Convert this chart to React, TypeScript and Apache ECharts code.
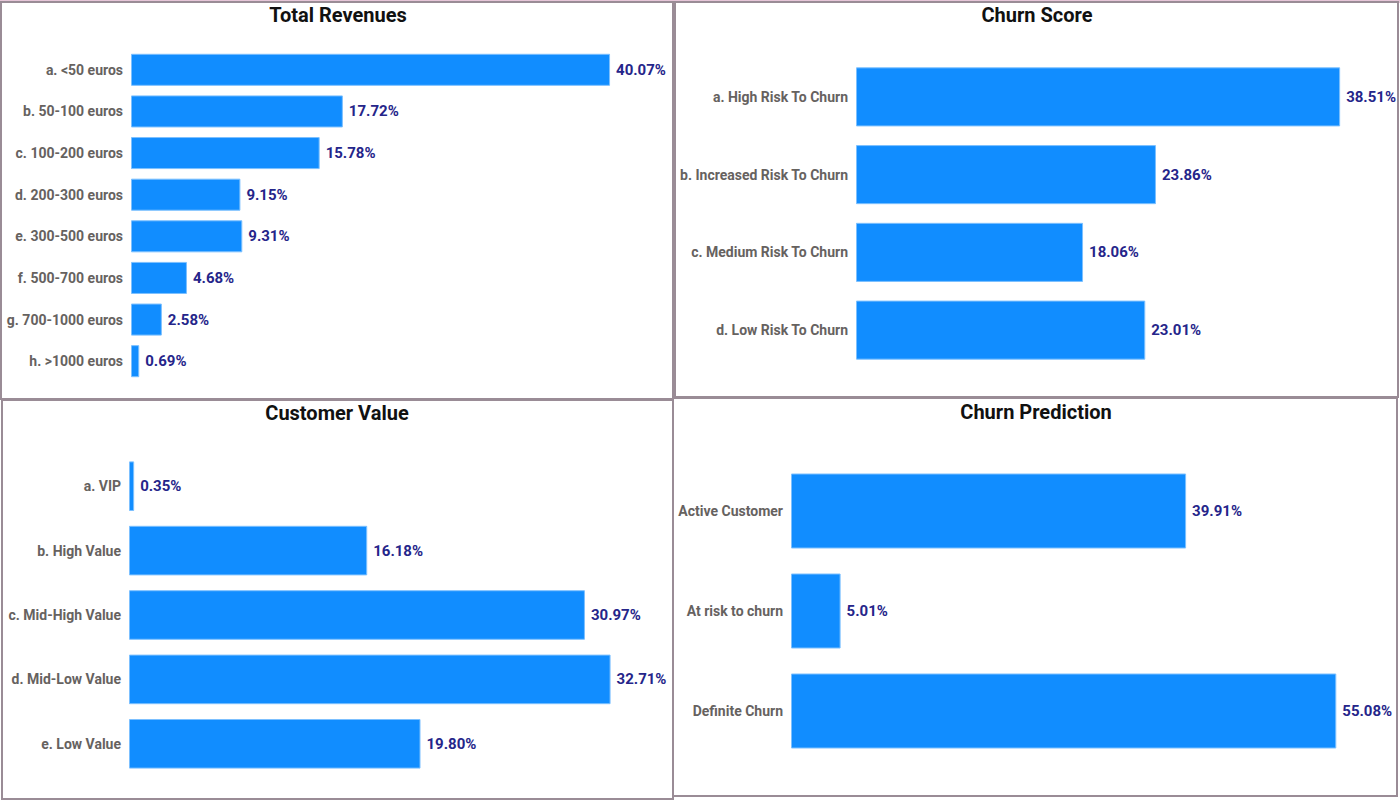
import React, { useEffect, useRef } from "react";
import * as echarts from "echarts";

const revenueCats = ["a. <50 euros", "b. 50-100 euros", "c. 100-200 euros", "d. 200-300 euros", "e. 300-500 euros", "f. 500-700 euros", "g. 700-1000 euros", "h. >1000 euros"];
const revenueVals = [40.07, 17.72, 15.78, 9.15, 9.31, 4.68, 2.58, 0.69];

const churnScoreCats = ["a. High Risk To Churn", "b. Increased Risk To Churn", "c. Medium Risk To Churn", "d. Low Risk To Churn"];
const churnScoreVals = [38.51, 23.86, 18.06, 23.01];

const valueCats = ["a. VIP", "b. High Value", "c. Mid-High Value", "d. Mid-Low Value", "e. Low Value"];
const valueVals = [0.35, 16.18, 30.97, 32.71, 19.8];

const predCats = ["Active Customer", "At risk to churn", "Definite Churn"];
const predVals = [39.91, 5.01, 55.08];

const titles = ["Total Revenues", "Churn Score", "Customer Value", "Churn Prediction"];

const FONT = "Roboto, 'DejaVu Sans', sans-serif";
const BAR = "#118DFF";
const BORDER = "#9a8c96";

export default function App() {
  const ref = useRef<HTMLDivElement>(null);
  useEffect(() => {
    if (!ref.current) return;
    const chart = echarts.init(ref.current, undefined, { renderer: "svg" });

    const panels = [
      { cats: revenueCats, vals: revenueVals, grid: { left: 131, top: 49, width: 538, height: 333 }, max: 45, gap: "23%" },
      { cats: churnScoreCats, vals: churnScoreVals, grid: { left: 856, top: 58, width: 528, height: 311 }, max: 42, gap: "24%" },
      { cats: valueCats, vals: valueVals, grid: { left: 129, top: 454, width: 530, height: 322 }, max: 36, gap: "23%" },
      { cats: predCats, vals: predVals, grid: { left: 791, top: 461, width: 594, height: 300 }, max: 60, gap: "25%" },
    ];

    const titlePos = [
      { x: 338, y: 15 },
      { x: 1037, y: 15 },
      { x: 337, y: 413 },
      { x: 1036, y: 412 },
    ];

    const frames = [
      { x: 1, y: 2, width: 672, height: 397 },
      { x: 675, y: 2, width: 723, height: 395 },
      { x: 2, y: 400, width: 671, height: 399 },
      { x: 673, y: 398, width: 724, height: 398 },
    ];

    const graphic: any[] = [
      { type: "rect", shape: { x: 0, y: 0, width: 1400, height: 3 }, style: { fill: "#e6c6d8" }, silent: true },
    ];
    frames.forEach((f) => {
      graphic.push({
        type: "rect",
        shape: f,
        style: { fill: "none", stroke: BORDER, lineWidth: 2 },
        silent: true,
      });
    });
    titles.forEach((t, i) => {
      graphic.push({
        type: "text",
        x: titlePos[i].x,
        y: titlePos[i].y,
        style: {
          text: t,
          fill: "#111111",
          font: `bold 20px ${FONT}`,
          textAlign: "center",
          textVerticalAlign: "middle",
        },
      });
    });

    chart.setOption({
      animation: false,
      backgroundColor: "#ffffff",
      grid: panels.map((p) => ({ ...p.grid, containLabel: false })),
      xAxis: panels.map((p, i) => ({
        type: "value",
        gridIndex: i,
        min: 0,
        max: p.max,
        show: false,
      })),
      yAxis: panels.map((p, i) => ({
        type: "category",
        gridIndex: i,
        data: p.cats,
        inverse: true,
        axisLine: { show: false },
        axisTick: { show: false },
        splitLine: { show: false },
        axisLabel: {
          color: "#66625f",
          fontFamily: FONT,
          fontWeight: "bold",
          fontSize: 14,
          margin: 8,
        },
      })),
      series: panels.map((p, i) => ({
        type: "bar",
        xAxisIndex: i,
        yAxisIndex: i,
        data: p.vals,
        barCategoryGap: p.gap,
        itemStyle: { color: BAR, borderColor: "#7cc0ff", borderWidth: 1 },
        label: {
          show: true,
          position: "right",
          distance: 6,
          color: "#25258a",
          fontFamily: FONT,
          fontWeight: "bold",
          fontSize: 15,
          formatter: (d: any) => Number(d.value).toFixed(2) + "%",
        },
      })),
      graphic,
    });

    return () => chart.dispose();
  }, []);

  return (
    <div
      ref={ref}
      style={{ position: "absolute", left: 0, top: 0, width: 1400, height: 802, background: "#fff" }}
    />
  );
}
